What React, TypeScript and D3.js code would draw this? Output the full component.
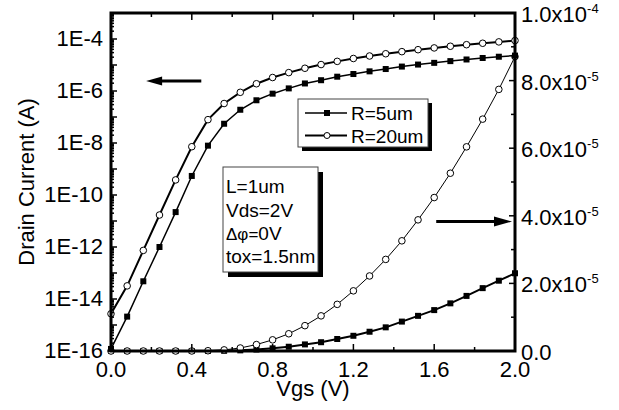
import React from 'react';
import * as d3 from 'd3';

// gate voltage (V)
const vgs = [
  0, 0.08, 0.16, 0.24, 0.32, 0.4, 0.48, 0.56, 0.64, 0.72, 0.8, 0.88, 0.96,
  1.04, 1.12, 1.2, 1.28, 1.36, 1.44, 1.52, 1.6, 1.68, 1.76, 1.84, 1.92, 2.0,
];

// drain current (A), R = 5um
const idR5 = [
  1.2e-16, 2.1e-15, 4.8e-14, 1.0e-12, 2.2e-11, 5.4e-10, 7.9e-9, 5.5e-8, 1.9e-7,
  4.4e-7, 7.9e-7, 1.26e-6, 1.95e-6, 2.6e-6, 3.55e-6, 4.5e-6, 5.7e-6, 7.0e-6,
  8.7e-6, 1.04e-5, 1.21e-5, 1.41e-5, 1.63e-5, 1.86e-5, 2.08e-5, 2.3e-5,
];

// drain current (A), R = 20um
const idR20 = [
  2.7e-15, 3.2e-14, 7.4e-13, 1.7e-11, 3.8e-10, 7.2e-9, 7.9e-8, 3.3e-7, 8.9e-7,
  1.9e-6, 3.3e-6, 5.1e-6, 7.5e-6, 1.04e-5, 1.38e-5, 1.78e-5, 2.22e-5, 2.71e-5,
  3.26e-5, 3.88e-5, 4.54e-5, 5.26e-5, 6.04e-5, 6.86e-5, 7.74e-5, 8.71e-5,
];

const xTicks = [0, 0.4, 0.8, 1.2, 1.6, 2.0];
const xTickLabels = ['0.0', '0.4', '0.8', '1.2', '1.6', '2.0'];
const leftLabelExps = [-4, -6, -8, -10, -12, -14, -16];
const rightTicks = [0, 2e-5, 4e-5, 6e-5, 8e-5, 1e-4];
const rightMant = ['0.0', '2.0x10', '4.0x10', '6.0x10', '8.0x10', '1.0x10'];
const rightExp = ['', '-5', '-5', '-5', '-5', '-4'];

const FONT = '"Liberation Sans", Arial, sans-serif';
const L = 111, R = 515, T = 13, B = 351;

export default function App() {
  const x = d3.scaleLinear().domain([0, 2]).range([L, R]);
  const yLog = d3.scaleLog().domain([1e-16, 1e-3]).range([B, T]);
  const yLin = d3.scaleLinear().domain([0, 1e-4]).range([B, T]);

  const lineLog = d3.line<number>().x((_, i) => x(vgs[i])).y(d => yLog(d));
  const lineLin = d3.line<number>().x((_, i) => x(vgs[i])).y(d => yLin(d));

  // log ticks on left axis
  const logMajor = d3.range(-16, -2).map(e => Math.pow(10, e));
  const logMinor: number[] = [];
  d3.range(-16, -3).forEach(e => {
    for (let k = 2; k <= 9; k++) logMinor.push(k * Math.pow(10, e));
  });
  const xMinor = [0.2, 0.6, 1.0, 1.4, 1.8];
  const rMinor = [1e-5, 3e-5, 5e-5, 7e-5, 9e-5];

  const square = (cx: number, cy: number, key: string) => (
    <rect key={key} x={cx - 3} y={cy - 3} width={6} height={6} fill="#000" />
  );
  const circle = (cx: number, cy: number, key: string) => (
    <circle key={key} cx={cx} cy={cy} r={3.3} fill="#fff" stroke="#000" strokeWidth={1} />
  );

  // arrows (data coordinates)
  const la = { y: yLog(2.4e-6), x1: x(0.447), x2: x(0.174) };
  const ra = { y: yLin(3.83e-5), x1: x(1.61), x2: x(2.0) - 3 };

  return (
    <svg width={619} height={410} style={{ position: 'absolute', left: 0, top: 0, background: '#fff' }}
      fontFamily={FONT}>
      <rect width={619} height={410} fill="#fff" />

      {/* linear curves (right axis) */}
      <path d={lineLin(idR5) || ''} fill="none" stroke="#000" strokeWidth={2} />
      <path d={lineLin(idR20) || ''} fill="none" stroke="#000" strokeWidth={1} />
      {idR5.map((d, i) => square(x(vgs[i]), yLin(d), 'ls' + i))}
      {idR20.map((d, i) => circle(x(vgs[i]), yLin(d), 'lc' + i))}

      {/* log curves (left axis) */}
      <path d={lineLog(idR5) || ''} fill="none" stroke="#000" strokeWidth={1.5} />
      <path d={lineLog(idR20) || ''} fill="none" stroke="#000" strokeWidth={2} />
      {idR5.map((d, i) => square(x(vgs[i]), yLog(d), 'gs' + i))}
      {idR20.map((d, i) => circle(x(vgs[i]), yLog(d), 'gc' + i))}

      {/* ticks */}
      <g stroke="#000" strokeWidth={1.5}>
        {logMajor.map((v, i) => <line key={'lM' + i} x1={L} x2={L + 6} y1={yLog(v)} y2={yLog(v)} />)}
        {logMinor.map((v, i) => <line key={'lm' + i} x1={L} x2={L + 3} y1={yLog(v)} y2={yLog(v)} />)}
        {rightTicks.map((v, i) => <line key={'rM' + i} x1={R} x2={R - 6} y1={yLin(v)} y2={yLin(v)} />)}
        {rMinor.map((v, i) => <line key={'rm' + i} x1={R} x2={R - 4} y1={yLin(v)} y2={yLin(v)} />)}
        {xTicks.map((v, i) => (
          <g key={'xM' + i}>
            <line x1={x(v)} x2={x(v)} y1={B} y2={B - 7} />
            <line x1={x(v)} x2={x(v)} y1={T} y2={T + 7} />
          </g>
        ))}
        {xMinor.map((v, i) => (
          <g key={'xm' + i}>
            <line x1={x(v)} x2={x(v)} y1={B} y2={B - 4} />
            <line x1={x(v)} x2={x(v)} y1={T} y2={T + 4} />
          </g>
        ))}
      </g>

      {/* frame */}
      <rect x={L} y={T} width={R - L} height={B - T} fill="none" stroke="#000" strokeWidth={3} />

      {/* tick labels */}
      <g fontSize={22} fill="#000">
        {xTicks.map((v, i) => (
          <text key={'xl' + i} x={x(v)} y={377} textAnchor="middle">{xTickLabels[i]}</text>
        ))}
        {leftLabelExps.map(e => (
          <text key={'yl' + e} x={103} y={yLog(Math.pow(10, e)) + 7} textAnchor="end">{`1E${e}`}</text>
        ))}
        {rightTicks.map((v, i) => (
          <text key={'rl' + i} x={521} y={yLin(v) + 9}>
            {rightMant[i]}
            {rightExp[i] && <tspan fontSize={13} dy={-9}>{rightExp[i]}</tspan>}
          </text>
        ))}
        <text x={(L + R) / 2} y={396} textAnchor="middle">Vgs (V)</text>
        <text transform={`translate(34, ${(T + B) / 2}) rotate(-90)`} textAnchor="middle">Drain Current (A)</text>
      </g>

      {/* arrows */}
      <line x1={la.x1} x2={la.x2 + 12} y1={la.y} y2={la.y} stroke="#000" strokeWidth={3} />
      <path d={`M${la.x2},${la.y} L${la.x2 + 16},${la.y - 4.5} L${la.x2 + 16},${la.y + 4.5} Z`} fill="#000" />
      <line x1={ra.x1} x2={ra.x2 - 12} y1={ra.y} y2={ra.y} stroke="#000" strokeWidth={3} />
      <path d={`M${ra.x2},${ra.y} L${ra.x2 - 18},${ra.y - 5} L${ra.x2 - 18},${ra.y + 5} Z`} fill="#000" />

      {/* legend */}
      <rect x={302} y={103} width={130} height={48} fill="#000" />
      <rect x={298} y={99} width={130} height={48} fill="#fff" stroke="#444" strokeWidth={1} />
      <line x1={305} x2={347} y1={113} y2={113} stroke="#000" strokeWidth={1.3} />
      {square(327, 113, 'leg5')}
      <line x1={305} x2={347} y1={135.5} y2={135.5} stroke="#000" strokeWidth={2} />
      <circle cx={327} cy={135.5} r={3} fill="#fff" stroke="#000" strokeWidth={1} />
      <text x={351} y={120} fontSize={19}>R=5um</text>
      <text x={351} y={142.5} fontSize={19}>R=20um</text>

      {/* parameter box */}
      <rect x={228} y={172} width={95} height={105} fill="#000" />
      <rect x={223} y={167} width={95} height={105} fill="#fff" stroke="#444" strokeWidth={1} />
      <g fontSize={19}>
        <text x={226} y={193}>L=1um</text>
        <text x={226} y={216.5}>Vds=2V</text>
        <text x={226} y={240}>
          <tspan fontSize={17}>Δφ=</tspan>0V
        </text>
        <text x={226} y={263}>tox=1.5nm</text>
      </g>
    </svg>
  );
}
